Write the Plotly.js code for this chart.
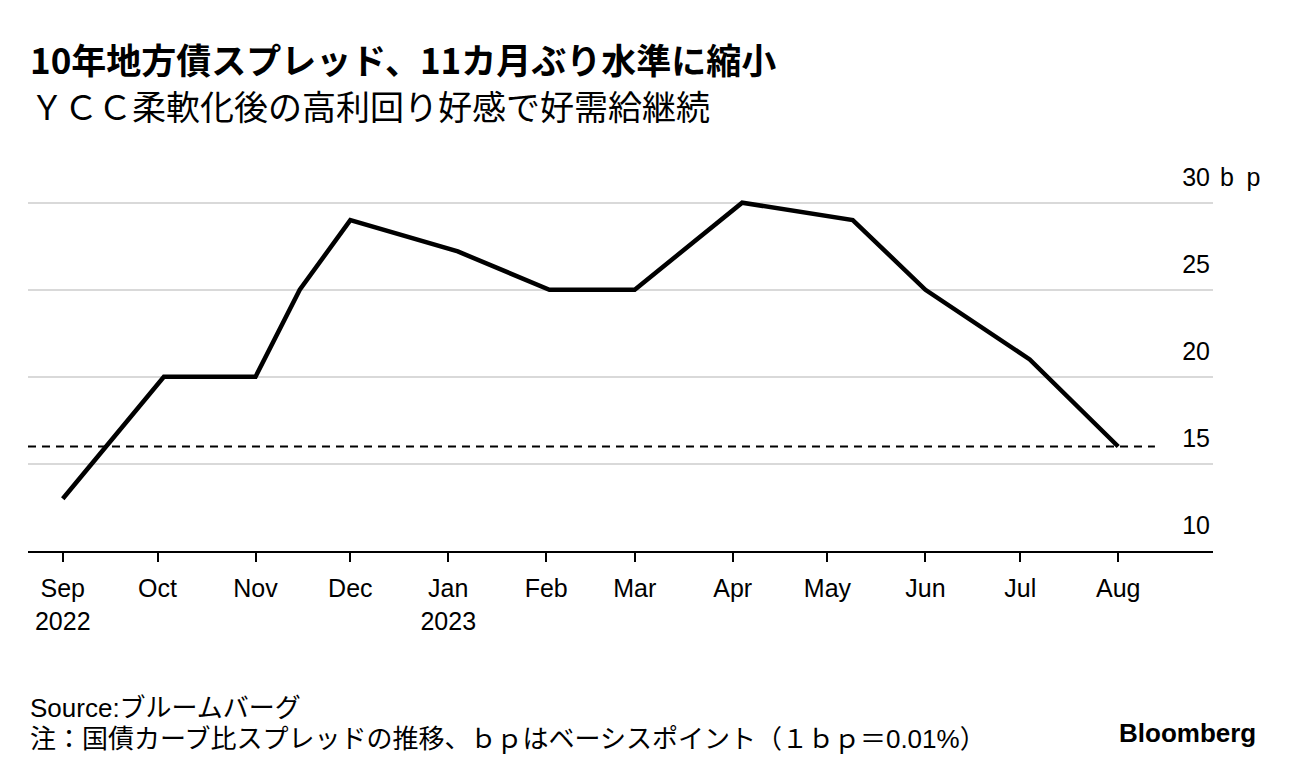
<!DOCTYPE html>
<html>
<head>
<meta charset="utf-8">
<script src="https://cdn.plot.ly/plotly-3.0.1.min.js"></script>
<style>
html,body{margin:0;padding:0;background:#fff;}
#chart{width:1296px;height:778px;}
</style>
</head>
<body>
<div id="chart"></div>
<script>
// Data (spread, bp)
const dates = ['2022-09-01','2022-10-03','2022-11-01','2022-11-15','2022-12-01','2023-01-04','2023-02-02','2023-03-01','2023-04-04','2023-05-09','2023-06-01','2023-07-04','2023-08-01'];
const spread = [13, 20, 20, 25, 29, 27.2, 25, 25, 30, 29, 25, 21, 16];
const currentLevel = 16;

const tickDates = ['2022-09-01','2022-10-01','2022-11-01','2022-12-01','2023-01-01','2023-02-01','2023-03-01','2023-04-01','2023-05-01','2023-06-01','2023-07-01','2023-08-01'];
const tickLabels = ['Sep<br>2022','Oct','Nov','Dec','Jan<br>2023','Feb','Mar','Apr','May','Jun','Jul','Aug'];
const yTicks = [10, 15, 20, 25, 30];
const yTickLabels = ['10','15','20','25','30'];

const titleText = '10年地方債スプレッド、11カ月ぶり水準に縮小';
const subtitleText = 'ＹＣＣ柔軟化後の高利回り好感で好需給継続';
const sourceText = 'Source:ブルームバーグ';
const noteText = '注：国債カーブ比スプレッドの推移、ｂｐはベーシスポイント（１ｂｐ＝0.01%）';
const unitText = 'b\u2002p';

const FONT = '"Liberation Sans", Arial, "Noto Sans CJK JP", sans-serif';
const CJK = '"Noto Sans CJK JP", "Liberation Sans", sans-serif';

const traces = [{
  x: dates,
  y: spread,
  type: 'scatter',
  mode: 'lines',
  line: {color: '#000', width: 4.5, shape: 'linear'},
  hoverinfo: 'skip'
}];

const layout = {
  width: 1296,
  height: 778,
  margin: {l: 28, r: 83, t: 160, b: 227, pad: 0},
  paper_bgcolor: '#fff',
  plot_bgcolor: '#fff',
  showlegend: false,
  font: {family: FONT, color: '#000', size: 25},
  xaxis: {
    type: 'date',
    range: ['2022-08-21', '2023-08-31'],
    tickmode: 'array',
    tickvals: tickDates,
    ticktext: tickLabels,
    showgrid: false,
    zeroline: false,
    showline: true,
    linecolor: '#000',
    linewidth: 2,
    ticks: 'outside',
    ticklen: 9,
    tickwidth: 2,
    tickcolor: '#000',
    tickfont: {family: FONT, size: 25, color: '#000'},
    ticklabelstandoff: 5,
    fixedrange: true
  },
  yaxis: {
    side: 'right',
    range: [10, 32.45],
    tickmode: 'array',
    tickvals: yTicks,
    ticktext: yTickLabels,
    ticklabelposition: 'inside top',
    ticklabelshift: -8,
    ticks: '',
    showgrid: true,
    gridcolor: '#d9d9d9',
    gridwidth: 2,
    zeroline: false,
    showline: false,
    tickfont: {family: FONT, size: 25, color: '#000'},
    fixedrange: true
  },
  shapes: [{
    type: 'line',
    xref: 'paper', yref: 'y',
    x0: 0, x1: 0.951,
    y0: currentLevel, y1: currentLevel,
    line: {color: '#000', width: 2, dash: '8px,6px'},
    layer: 'above'
  }],
  annotations: [
    {text: '<b>' + titleText + '</b>', xref: 'paper', yref: 'paper', x: 0, y: 1.26, xanchor: 'left', yanchor: 'middle', showarrow: false, font: {family: CJK, size: 35, color: '#000'}},
    {text: subtitleText, xref: 'paper', yref: 'paper', x: 0, y: 1.139, xanchor: 'left', yanchor: 'middle', showarrow: false, font: {family: CJK, size: 34, color: '#000'}},
    {text: unitText, xref: 'paper', yref: 'y', x: 1, y: 30, xanchor: 'left', yanchor: 'middle', xshift: 5, yshift: 26, showarrow: false, font: {family: FONT, size: 25, color: '#000'}},
    {text: sourceText, xref: 'paper', yref: 'paper', x: 0, y: -0.4015, xanchor: 'left', yanchor: 'middle', showarrow: false, font: {family: FONT, size: 26, color: '#000'}},
    {text: noteText, xref: 'paper', yref: 'paper', x: 0, y: -0.481, xanchor: 'left', yanchor: 'middle', showarrow: false, font: {family: FONT, size: 26, color: '#000'}},
    {text: '<b>Bloomberg</b>', xref: 'paper', yref: 'paper', x: 1.038, y: -0.465, xanchor: 'right', yanchor: 'middle', showarrow: false, font: {family: FONT, size: 26, color: '#000'}}
  ]
};

Plotly.newPlot('chart', traces, layout, {displayModeBar: false, staticPlot: true});
</script>
</body>
</html>
